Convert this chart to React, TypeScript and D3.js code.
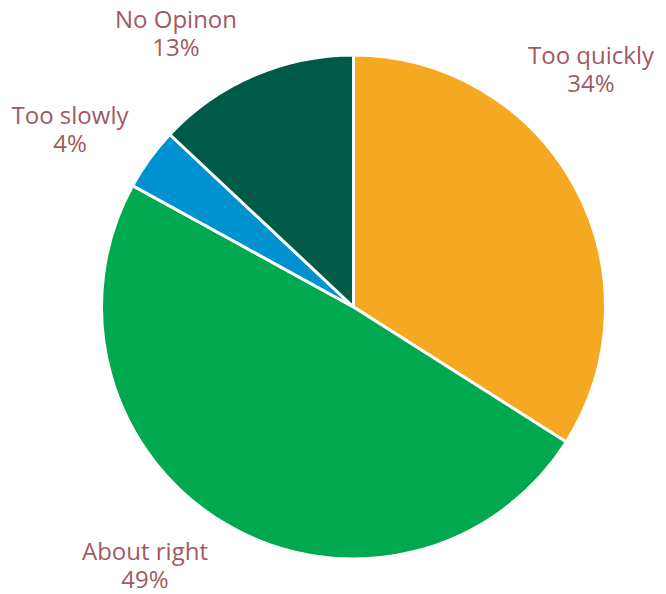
import React from "react";
import * as d3 from "d3";

const categories = ["Too quickly", "About right", "Too slowly", "No Opinon"];
const values = [34, 49, 4, 13];
const colors = ["#F5A822", "#00A94F", "#0091D1", "#005A48"];
// label anchor positions (layout only)
const labelPos: [number, number][] = [
  [591, 56],
  [145, 552],
  [70, 116],
  [176, 20],
];

export default function App() {
  const width = 666;
  const height = 594;
  const cx = 353.5;
  const cy = 307;
  const r = 252;
  const data = categories.map((c, i) => ({ c, v: values[i], color: colors[i] }));
  const pie = d3.pie<any>().value((d) => d.v).sort(null);
  const arc = d3.arc<any>().innerRadius(0).outerRadius(r);
  const arcs = pie(data);
  return (
    <svg
      width={width}
      height={height}
      style={{ position: "absolute", left: 0, top: 0, background: "#fff" }}
    >
      <g transform={`translate(${cx},${cy})`}>
        {arcs.map((a, i) => (
          <path
            key={i}
            d={arc(a) as string}
            fill={a.data.color}
            stroke="#fff"
            strokeWidth={3}
            strokeLinejoin="round"
          />
        ))}
      </g>
      {arcs.map((a, i) => (
        <text
          key={i}
          x={labelPos[i][0]}
          y={labelPos[i][1]}
          textAnchor="middle"
          fill="#A05A62"
          fontFamily="'Open Sans', sans-serif"
          fontSize={24}
        >
          <tspan x={labelPos[i][0]} dy="0.35em">{a.data.c}</tspan>
          <tspan x={labelPos[i][0]} dy="1.16em">{`${a.data.v}%`}</tspan>
        </text>
      ))}
    </svg>
  );
}
